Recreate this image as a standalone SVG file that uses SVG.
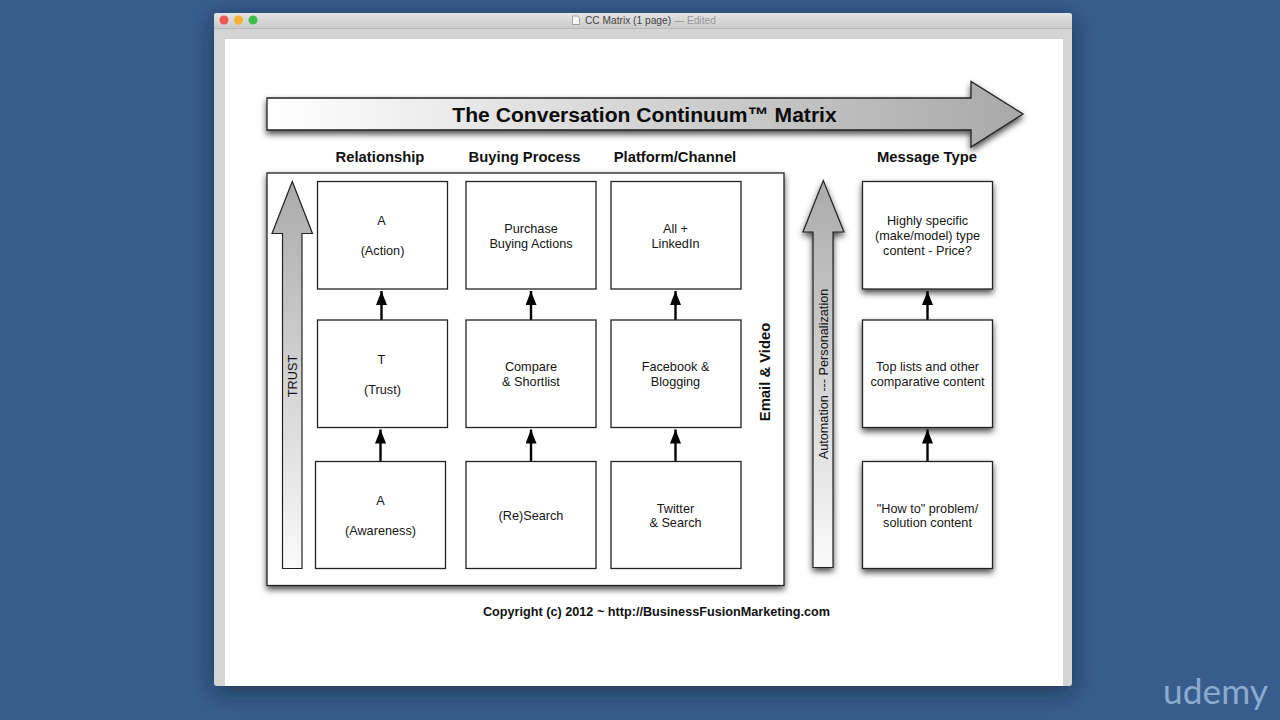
<svg xmlns="http://www.w3.org/2000/svg" width="1280" height="720" viewBox="0 0 1280 720">
<style>
.box{fill:#fff;stroke:#222;stroke-width:1.3}
.t{font-family:"Liberation Sans",Arial,sans-serif;font-size:12.7px;fill:#151515;text-anchor:middle}
.h{font-family:"Liberation Sans",Arial,sans-serif;font-size:14.8px;font-weight:bold;fill:#111;text-anchor:middle}
.c{stroke:#000;stroke-width:2.4;fill:none;marker-end:url(#ah)}
</style>
<defs>
<linearGradient id="tb" x1="0" y1="0" x2="0" y2="1"><stop offset="0" stop-color="#e4e4e4"/><stop offset="1" stop-color="#cbcbcb"/></linearGradient>
<linearGradient id="ga" gradientUnits="userSpaceOnUse" x1="267" y1="0" x2="1023" y2="0"><stop offset="0" stop-color="#fff"/><stop offset="1" stop-color="#a8a8a8"/></linearGradient>
<linearGradient id="gt" gradientUnits="userSpaceOnUse" x1="0" y1="568" x2="0" y2="181"><stop offset="0" stop-color="#fafafa"/><stop offset="1" stop-color="#aaa"/></linearGradient>
<marker id="ah" markerUnits="userSpaceOnUse" markerWidth="15" markerHeight="11" refX="14" refY="5.500" orient="auto"><path d="M0 0L14 5.500L0 11Z" fill="#000"/></marker>
<filter id="sh" x="-15%" y="-15%" width="130%" height="130%"><feDropShadow dx="0" dy="3.500" stdDeviation="3" flood-color="#000" flood-opacity="0.7"/></filter>
<filter id="ws" x="-10%" y="-10%" width="120%" height="120%"><feDropShadow dx="0" dy="6" stdDeviation="12" flood-color="#0b1a33" flood-opacity="0.6"/></filter>
</defs>
<rect width="1280" height="720" fill="#385d8d"/>
<g id="window">
<rect x="214" y="13" width="858" height="673" rx="3" fill="#d4d4d4" filter="url(#ws)"/>
<path d="M214 28V16a3 3 0 0 1 3-3H1069a3 3 0 0 1 3 3V28Z" fill="url(#tb)"/>
<line x1="214" y1="28.500" x2="1072" y2="28.500" stroke="#b8b8b8"/>
<rect x="225" y="39" width="838" height="647" fill="#fff"/>
<circle cx="224" cy="20" r="4.500" fill="#f0544e"/>
<circle cx="238.500" cy="20" r="4.500" fill="#f5b132"/>
<circle cx="253" cy="20" r="4.500" fill="#3fbe4a"/>
<path d="M572.500 16h5l2 2v6.500h-7z" fill="#f4f4f4" stroke="#888" stroke-width=".7"/>
<text x="585" y="24" font-family="'Liberation Sans',Arial,sans-serif" font-size="10.200" fill="#444">CC Matrix (1 page)<tspan fill="#999"> — Edited</tspan></text>
</g>
<g id="banner">
<path d="M267 98H971V81.500L1023 114L971 147V130H267Z" fill="url(#ga)" stroke="#222" stroke-width="1.300" stroke-linejoin="miter" filter="url(#sh)"/>
<text x="644.500" y="121.500" text-anchor="middle" font-family="'Liberation Sans',Arial,sans-serif" font-size="21.100" font-weight="bold" fill="#0c0c0c">The Conversation Continuum™ Matrix</text>
</g>
<g id="headers">
<text class="h" x="380" y="161.500">Relationship</text>
<text class="h" x="524.500" y="161.500">Buying Process</text>
<text class="h" x="675" y="161.500">Platform/Channel</text>
<text class="h" x="927" y="161.500">Message Type</text>
</g>
<g id="frame">
<rect x="267" y="173" width="517" height="412.500" fill="#fff" stroke="#222" stroke-width="1.300" filter="url(#sh)"/>
<text x="769.500" y="372" class="h" transform="rotate(-90 769.500 372)">Email &amp; Video</text>
</g>
<g id="trust-arrow">
<path d="M282.500 568.500V233.500H272L292.300 181.500L312.500 233.500H302V568.500Z" fill="url(#gt)" stroke="#222" stroke-width="1.200"/>
<text class="t" x="296.500" y="376" transform="rotate(-90 296.500 376)">TRUST</text>
</g>
<g id="automation-arrow">
<path d="M813 567.500V232H803L823.300 180.500L844 232H833V567.500Z" fill="url(#gt)" stroke="#222" stroke-width="1.200" filter="url(#sh)"/>
<text class="t" x="827.500" y="374" transform="rotate(-90 827.500 374)">Automation --- Personalization</text>
</g>
<g id="connectors">
<path class="c" d="M381.500 320V291"/>
<path class="c" d="M380.500 461.500V429.500"/>
<path class="c" d="M531 320V291"/>
<path class="c" d="M531 461.500V429.500"/>
<path class="c" d="M675.500 320V291"/>
<path class="c" d="M675.500 461.500V429.500"/>
<path class="c" d="M927.500 320V291"/>
<path class="c" d="M927.500 461.500V429.500"/>
</g>
<g id="n-action"><rect class="box" x="317.500" y="181.500" width="130" height="107.500"/><text class="t" x="381.500" y="225">A</text><text class="t" x="382.500" y="255">(Action)</text></g>
<g id="n-trust"><rect class="box" x="317.500" y="320" width="130" height="107.500"/><text class="t" x="381.500" y="363.500">T</text><text class="t" x="382.500" y="393.500">(Trust)</text></g>
<g id="n-awareness"><rect class="box" x="315.500" y="461.500" width="130" height="107"/><text class="t" x="380.500" y="505">A</text><text class="t" x="380.500" y="535">(Awareness)</text></g>
<g id="n-purchase"><rect class="box" x="466" y="181.500" width="130" height="107.500"/><text class="t" x="531" y="232.500">Purchase</text><text class="t" x="531" y="247.500">Buying Actions</text></g>
<g id="n-compare"><rect class="box" x="466" y="320" width="130" height="107.500"/><text class="t" x="531" y="371">Compare</text><text class="t" x="531" y="386">&amp; Shortlist</text></g>
<g id="n-research"><rect class="box" x="466" y="461.500" width="130" height="107"/><text class="t" x="531" y="520">(Re)Search</text></g>
<g id="n-linkedin"><rect class="box" x="611" y="181.500" width="130" height="107.500"/><text class="t" x="675.500" y="232.500">All +</text><text class="t" x="675.500" y="247.500">LinkedIn</text></g>
<g id="n-facebook"><rect class="box" x="611" y="320" width="130" height="107.500"/><text class="t" x="675.500" y="371">Facebook &amp;</text><text class="t" x="675.500" y="386">Blogging</text></g>
<g id="n-twitter"><rect class="box" x="611" y="461.500" width="130" height="107"/><text class="t" x="675.500" y="512.500">Twitter</text><text class="t" x="675.500" y="527">&amp; Search</text></g>
<g id="n-specific"><rect class="box" x="862.500" y="181.500" width="130" height="107.500" filter="url(#sh)"/><text class="t" x="927.500" y="225">Highly specific</text><text class="t" x="927.500" y="240">(make/model) type</text><text class="t" x="927.500" y="254.500">content - Price?</text></g>
<g id="n-toplists"><rect class="box" x="862.500" y="320" width="130" height="107.500" filter="url(#sh)"/><text class="t" x="927.500" y="371">Top lists and other</text><text class="t" x="927.500" y="386">comparative content</text></g>
<g id="n-howto"><rect class="box" x="862.500" y="461.500" width="130" height="107" filter="url(#sh)"/><text class="t" x="927.500" y="512.500">"How to" problem/</text><text class="t" x="927.500" y="527">solution content</text></g>
<text x="656.500" y="615.500" text-anchor="middle" font-family="'Liberation Sans',Arial,sans-serif" font-size="12.670" font-weight="bold" fill="#111">Copyright (c) 2012 ~ http://BusinessFusionMarketing.com</text>
<text x="1215.500" y="704" text-anchor="middle" font-family="Lato,'Liberation Sans',sans-serif" font-size="35.300" fill="#8aaad0">udemy</text>
</svg>
